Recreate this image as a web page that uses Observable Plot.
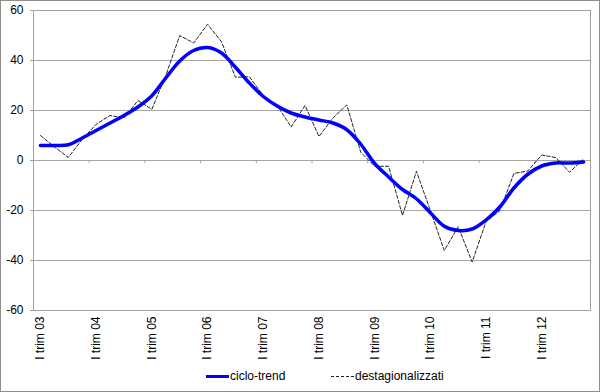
<!DOCTYPE html>
<html>
<head>
<meta charset="utf-8">
<script src="https://cdn.jsdelivr.net/npm/d3@7"></script>
<script src="https://cdn.jsdelivr.net/npm/@observablehq/plot@0.6"></script>
<style>
  html, body { margin: 0; padding: 0; background: #fff; }
  #chart { position: relative; width: 600px; height: 392px; box-sizing: border-box; border: 1px solid #8e8e8e; background: #fff; font-family: Arial, "Liberation Sans", sans-serif; }
  #chart svg { display: block; }
  .legend { position: absolute; top: 367px; left: 0; width: 598px; height: 18px; font-size: 12px; color: #000; }
  .legend .item { position: absolute; top: 0; display: flex; align-items: center; height: 16px; }
  .legend .swatch { display: inline-block; width: 23px; height: 0; margin-right: 1px; }
</style>
</head>
<body>
<div id="chart"></div>
<script>
const years = ["03","04","05","06","07","08","09","10","11","12"];
const quarterNames = ["I trim","II trim","III trim","IV trim"];
const quarters = years.flatMap(y => quarterNames.map(q => q + " " + y));

const cicloTrend = [6, 6, 6.3, 9, 12, 15, 18, 21.4, 25.9, 33,
  39.8, 44, 45.2, 43, 37.3, 31, 25.6, 21.8, 19, 17.4,
  16.2, 15, 12.3, 6.5, -1.2, -6.6, -11.6, -15.3, -20.9, -26.3,
  -28, -27.4, -23.8, -18.5, -11, -5.5, -2.2, -1, -1, -0.6];

const destagionalizzati = [10, 5.5, 1.2, 8.5, 14.5, 18, 17, 24, 20.5, 34,
  50, 47, 54.5, 47.5, 33.3, 33.5, 26, 22, 13.4, 22,
  9.6, 17, 22.2, 3.3, -2.3, -2.3, -22, -4.3, -20, -36,
  -26.5, -40.6, -24.5, -20, -5.2, -4.2, 2.2, 1.2, -4.7, 0.6];

const yTicks = [-60, -40, -20, 0, 20, 40, 60];
const seriesNames = ["ciclo-trend", "destagionalizzati"];

const trendData = quarters.map((q, i) => ({i, q, v: cicloTrend[i]}));
const destData = quarters.map((q, i) => ({i, q, v: destagionalizzati[i]}));
const labelIdx = quarters.map((q, i) => i).filter(i => i % 4 === 0);
const yearBounds = years.slice(1).map((y, k) => (k + 1) * 4 - 0.5);

const plot = Plot.plot({
  width: 598,
  height: 366,
  marginLeft: 32,
  marginRight: 9,
  marginTop: 9,
  marginBottom: 57,
  style: {fontFamily: "Arial, 'Liberation Sans', sans-serif", fontSize: "12px", background: "white", color: "black"},
  x: {type: "linear", domain: [-0.5, quarters.length - 0.5], axis: null},
  y: {domain: [-60, 60], axis: null},
  marks: [
    Plot.ruleY(yTicks, {stroke: "#a6a6a6", strokeWidth: 1}),
    Plot.ruleX(yearBounds, {y1: 0, y2: -1.3, stroke: "#a6a6a6"}),
    Plot.frame({stroke: "#a0a0a0"}),
    Plot.axisY({ticks: yTicks, tickSize: 3, tickPadding: 7, tickFormat: d => String(d), stroke: "#a0a0a0", fill: "black", label: null}),
    Plot.axisX({ticks: labelIdx, tickSize: 0, tickPadding: 6, tickRotate: -90, tickFormat: i => quarters[i], fill: "black", label: null}),
    Plot.line(destData, {x: "i", y: "v", stroke: "#222", strokeWidth: 1, strokeDasharray: "3.5,2"}),
    Plot.line(trendData, {x: "i", y: "v", stroke: "#0000ff", strokeWidth: 3.5, curve: "catmull-rom"})
  ]
});

const chart = document.getElementById("chart");
chart.appendChild(plot);

const legend = document.createElement("div");
legend.className = "legend";
legend.innerHTML = `
  <div class="item" style="left:205px"><span class="swatch" style="border-top:3.5px solid #0000ff"></span><span>${seriesNames[0]}</span></div>
  <div class="item" style="left:330px"><span class="swatch" style="border-top:1px dashed #222"></span><span>${seriesNames[1]}</span></div>`;
chart.appendChild(legend);
</script>
</body>
</html>
